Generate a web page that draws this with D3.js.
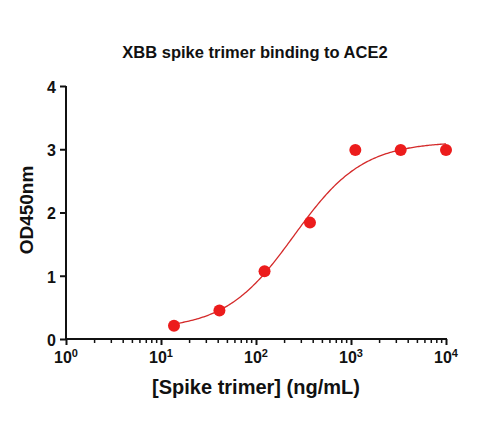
<!DOCTYPE html>
<meta charset="utf-8">
<style>
 body { margin: 0; background: #fff; }
 text { font-family: "Liberation Sans", Arial, sans-serif; font-weight: bold; fill: #111; }
 .axis path, .axis line { stroke: #111; stroke-width: 2px; }
 .fit { fill: none; stroke: #d42a2a; stroke-width: 1.3px; }
 .dot { fill: #ec1c1c; }
</style>
<svg id="chart"></svg>
<script src="https://cdn.jsdelivr.net/npm/d3@7"></script>
<script>
 // measured points (3-fold dilution series)
 var conc = [13.7, 41.2, 123, 370, 1111, 3333, 10000];
 var od = [0.21, 0.45, 1.07, 1.84, 2.99, 2.99, 2.99];
 // 4PL fit: bottom, top, logEC50, hill
 var fitBottom = 0.15, fitTop = 3.12, fitLogEC50 = 2.4, fitHill = 1.2;
 var xTicks = [1, 10, 100, 1000, 10000];
 var yTicks = [0, 1, 2, 3, 4];

 var W = 491, H = 422;
 var svg = d3.select("#chart").attr("width", W).attr("height", H);

 var x = d3.scaleLog().domain([1, 10000]).range([66, 446]);
 var y = d3.scaleLinear().domain([0, 4]).range([339, 86]);

 svg.append("text").attr("x", 255).attr("y", 58).attr("text-anchor", "middle")
    .style("font-size", "16.5px").text("XBB spike trimer binding to ACE2");

 // x axis, major ticks
 var gx = svg.append("g").attr("class", "axis").attr("transform", "translate(0,339)");
 gx.call(d3.axisBottom(x).tickValues(xTicks).tickSize(6).tickFormat(""));
 gx.select(".domain").attr("d", "M" + (x(1) - 1) + ",0H" + (x(10000) + 1));
 // minor ticks
 var minor = [];
 for (var e = 0; e < 4; e++) for (var m = 2; m < 10; m++) minor.push(m * Math.pow(10, e));
 gx.selectAll(".minor").data(minor).enter().append("line").attr("class", "minor")
   .attr("x1", x).attr("x2", x).attr("y1", 0).attr("y2", 4).style("stroke-width", "1.5px");

 var lab = gx.selectAll(".lab").data(xTicks).enter().append("text").attr("class", "lab")
   .attr("x", function(d) { return x(d); }).attr("y", 24)
   .attr("text-anchor", "middle").style("font-size", "16px");
 lab.append("tspan").text("10");
 lab.append("tspan").attr("dy", -6).style("font-size", "11px")
   .text(function(d) { return Math.round(Math.log10(d)); });

 // y axis
 var gy = svg.append("g").attr("class", "axis").attr("transform", "translate(66,0)");
 gy.call(d3.axisLeft(y).tickValues(yTicks).tickSize(6).tickFormat(d3.format("d")));
 gy.select(".domain").attr("d", "M0," + y(4) + "V" + (y(0) + 1));
 gy.selectAll(".tick text").style("font-size", "16px").attr("x", -10).attr("dy", "0.4em");

 svg.append("text").attr("transform", "translate(33,210) rotate(-90)")
    .attr("text-anchor", "middle").style("font-size", "19px").text("OD450nm");
 svg.append("text").attr("x", 256).attr("y", 394).attr("text-anchor", "middle")
    .style("font-size", "20px").text("[Spike trimer] (ng/mL)");

 // fitted curve
 function fit(c) {
   return fitBottom + (fitTop - fitBottom) / (1 + Math.pow(10, (fitLogEC50 - Math.log10(c)) * fitHill));
 }
 var curveX = d3.range(0, 201).map(function(i) {
   return Math.pow(10, Math.log10(conc[0]) + i / 200 * (Math.log10(conc[conc.length - 1]) - Math.log10(conc[0])));
 });
 svg.append("path").attr("class", "fit")
    .attr("d", d3.line().x(function(c) { return x(c); }).y(function(c) { return y(fit(c)); })(curveX));

 svg.selectAll(".dot").data(conc).enter().append("circle").attr("class", "dot")
    .attr("cx", function(d) { return x(d); })
    .attr("cy", function(d, i) { return y(od[i]); })
    .attr("r", 6);
</script>
